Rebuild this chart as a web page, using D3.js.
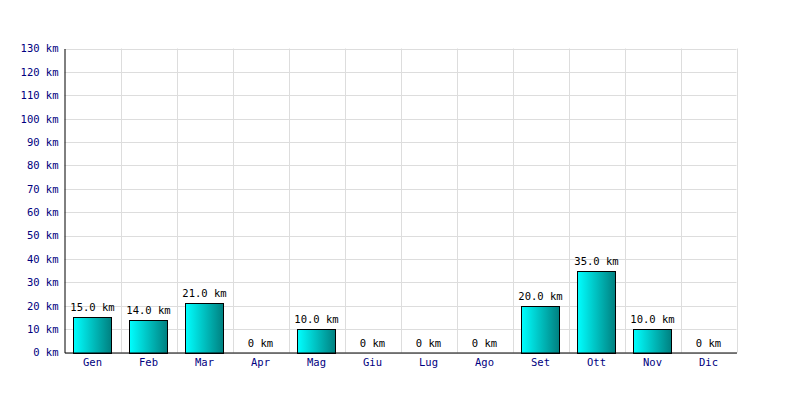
<!DOCTYPE html>
<html><head><meta charset="utf-8">
<script src="https://cdn.jsdelivr.net/npm/d3@7"></script>
<style>body{margin:0;background:#fff}</style>
</head><body>
<svg id="c" width="800" height="400"></svg>
<script>
const months = ["Gen","Feb","Mar","Apr","Mag","Giu","Lug","Ago","Set","Ott","Nov","Dic"];
const distances = [15,14,21,0,10,0,0,0,20,35,10,0];
const yTicks = [0,10,20,30,40,50,60,70,80,90,100,110,120,130];

const svg = d3.select("#c");
const L = 64.5, R = 736.5, T = 48.5, B = 352.5;
const font = "'DejaVu Sans Mono', monospace";

const x = d3.scaleBand().domain(months).range([L, R]).paddingInner(0.32).paddingOuter(0.16);
const xg = d3.scaleBand().domain(months).range([L, R]);
const y = d3.scaleLinear().domain([0,130]).range([B, T]);

const defs = svg.append("defs");
const g = defs.append("linearGradient").attr("id","gr").attr("x1","0").attr("x2","1").attr("y1","0").attr("y2","0");
g.append("stop").attr("offset","0").attr("stop-color","#00ffff");
g.append("stop").attr("offset","1").attr("stop-color","#008080");

// grid
svg.append("g").selectAll("line").data(yTicks).join("line")
  .attr("x1", L).attr("x2", R).attr("y1", d => Math.round(y(d))+0.5).attr("y2", d => Math.round(y(d))+0.5)
  .attr("stroke", "#dddddd");
svg.append("g").selectAll("line").data(months).join("line")
  .attr("x1", d => Math.round(xg(d)+xg.bandwidth())+0.5).attr("x2", d => Math.round(xg(d)+xg.bandwidth())+0.5)
  .attr("y1", T).attr("y2", B).attr("stroke", "#dddddd");

// bars
svg.append("g").selectAll("rect").data(distances.map((v,i)=>({m:months[i],v})).filter(d=>d.v>0)).join("rect")
  .attr("x", d => Math.round(x(d.m))+0.5)
  .attr("width", Math.round(x.bandwidth()))
  .attr("y", d => Math.round(y(d.v))+0.5)
  .attr("height", d => Math.round(y(0)) - Math.round(y(d.v)))
  .attr("fill", "url(#gr)").attr("stroke", "#000").attr("stroke-width", 1);

// value labels
svg.append("g").selectAll("text").data(distances.map((v,i)=>({m:months[i],v}))).join("text")
  .attr("x", d => x(d.m) + x.bandwidth()/2)
  .attr("y", d => y(d.v) - 6)
  .attr("text-anchor","middle").attr("font-family", font).attr("font-size", 10.5).attr("fill","#000")
  .text(d => d.v > 0 ? d.v.toFixed(1) + " km" : "0 km");

// axes
const yAxis = d3.axisLeft(y).tickValues(yTicks).tickSize(0).tickPadding(6).tickFormat(d => d + " km");
const ya = svg.append("g").attr("transform", `translate(${L},0)`).call(yAxis);
ya.select(".domain").attr("stroke","#000");
ya.selectAll("text").attr("font-family", font).attr("font-size", 10.5).attr("fill", "#000080");

const xAxis = d3.axisBottom(xg).tickSize(0).tickPadding(6);
const xa = svg.append("g").attr("transform", `translate(0,${B})`).call(xAxis);
xa.select(".domain").attr("stroke","#000");
xa.selectAll("text").attr("font-family", font).attr("font-size", 10.5).attr("fill", "#000080");
</script>
</body></html>
